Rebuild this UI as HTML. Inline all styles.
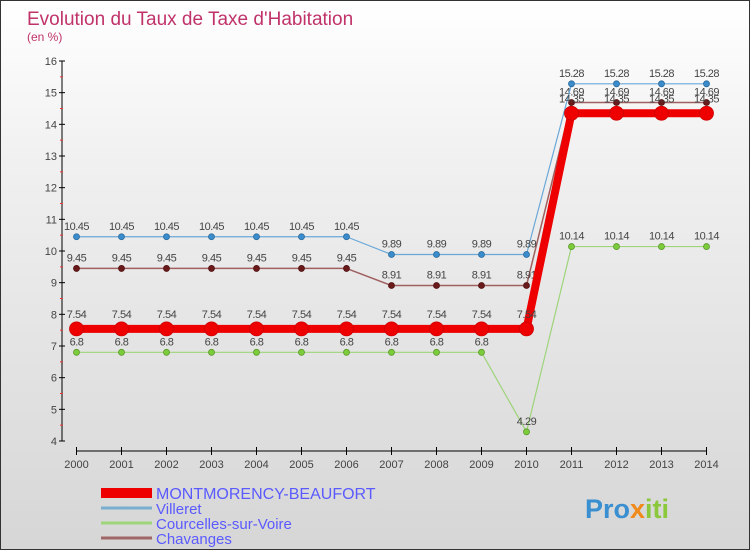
<!DOCTYPE html>
<html><head><meta charset="utf-8">
<style>
body{margin:0}
#c{width:750px;height:550px;position:relative;box-sizing:border-box;border:1px solid #333;background:linear-gradient(#ffffff,#f0f0f0 30%,#d6d6d6);font-family:"Liberation Sans",sans-serif;overflow:hidden}
svg text{font-family:"Liberation Sans",sans-serif}
</style></head><body>
<div id="c">
<svg id="s" width="750" height="550" xmlns="http://www.w3.org/2000/svg">
<text x="26" y="24" font-size="19" fill="#c0336a">Evolution du Taux de Taxe d'Habitation</text>
<text x="26" y="40" font-size="12" fill="#c0336a">(en %)</text>
<g id="axes"></g><g id="series"></g><g id="legend"></g>
<text x="584" y="517" font-size="27" font-weight="bold" fill="#3a8fd0">Pro<tspan fill="#f08a1a">x</tspan><tspan fill="#8cc83c">iti</tspan></text>
</svg>
</div>
<script>
const years=[2000,2001,2002,2003,2004,2005,2006,2007,2008,2009,2010,2011,2012,2013,2014];
const yTicks=[4,5,6,7,8,9,10,11,12,13,14,15,16];
const montmorency=[7.54,7.54,7.54,7.54,7.54,7.54,7.54,7.54,7.54,7.54,7.54,14.35,14.35,14.35,14.35];
const villeret=[10.45,10.45,10.45,10.45,10.45,10.45,10.45,9.89,9.89,9.89,9.89,15.28,15.28,15.28,15.28];
const courcelles=[6.8,6.8,6.8,6.8,6.8,6.8,6.8,6.8,6.8,6.8,4.29,10.14,10.14,10.14,10.14];
const chavanges=[9.45,9.45,9.45,9.45,9.45,9.45,9.45,8.91,8.91,8.91,8.91,14.69,14.69,14.69,14.69];
const NS="http://www.w3.org/2000/svg";
const X=i=>75.5+i*45;
const Y=v=>440-(v-4)*(380/12);
function mk(t,a,p){const e=document.createElementNS(NS,t);for(const k in a)e.setAttribute(k,a[k]);p.appendChild(e);return e;}
const ax=document.getElementById('axes');
let l=mk('line',{x1:61,y1:Y(16),x2:61,y2:Y(4),stroke:'#000'},ax);


yTicks.forEach(v=>{
  let t=mk('line',{x1:58,x2:64,y1:Y(v),y2:Y(v),stroke:'#000'},ax);
  
  
  let tx=mk('text',{x:56,y:Y(v)+4,'font-size':11,fill:'#444','text-anchor':'end'},ax);tx.textContent=v;
  
  
  if(v<16){let m=mk('line',{x1:59,x2:62,y1:Y(v+0.5),y2:Y(v+0.5),stroke:'#e33'},ax);
  
  }
});
l=mk('line',{x1:X(0),y1:450,x2:X(14),y2:450,stroke:'#000'},ax);


years.forEach((y,i)=>{
  let t=mk('line',{x1:X(i),x2:X(i),y1:446,y2:454,stroke:'#000'},ax);
  
  
  let tx=mk('text',{x:X(i),y:467,'font-size':11,fill:'#444','text-anchor':'middle'},ax);tx.textContent=y;
  
  
});
const sg=document.getElementById('series');
function series(name,vals,color,w,r,dot,dotStroke){
  const g=mk('g',{},sg);
  
  
  let p=mk('polyline',{points:vals.map((v,i)=>X(i)+','+Y(v)).join(' '),fill:'none',stroke:color,'stroke-width':w,'stroke-linejoin':'round'},g);
  
  
  vals.forEach((v,i)=>{
    let c=mk('circle',{cx:X(i),cy:Y(v),r:r,fill:dot,stroke:dotStroke,'stroke-width':0.8},g);
    
    
    let t=mk('text',{x:X(i),y:Y(v)-r-4,'font-size':11,fill:'#444','text-anchor':'middle','letter-spacing':'-0.5'},g);t.textContent=v;
    
    
  });
}
series('courcelles',courcelles,'#9ed47a',1.2,3,'#7ccc3c','#5a9a2a');
series('chavanges',chavanges,'#a06060',1.5,3,'#6a1a1a','#501010');
series('villeret',villeret,'#6aa8d8',1.2,3,'#3a8ccc','#2a6a9a');
series('montmorency',montmorency,'#ee0000',8,7,'#ee0000','#cc0000');
const lg=document.getElementById('legend');
const leg=[['MONTMORENCY-BEAUFORT','#ee0000',10],['Villeret','#7aaed0',3],['Courcelles-sur-Voire','#9ed47a',3],['Chavanges','#a06868',3]];
const legY=[492,507,522,537];
leg.forEach((d,i)=>{
  let r=mk('line',{x1:100,x2:151,y1:legY[i],y2:legY[i],stroke:d[1],'stroke-width':d[2]},lg);
  
  
  let t=mk('text',{x:155,y:legY[i]+6,'font-size':i==0?16:15,fill:'#5a5aff'},lg);t.textContent=d[0];
  
  
});
</script>
</body></html>
